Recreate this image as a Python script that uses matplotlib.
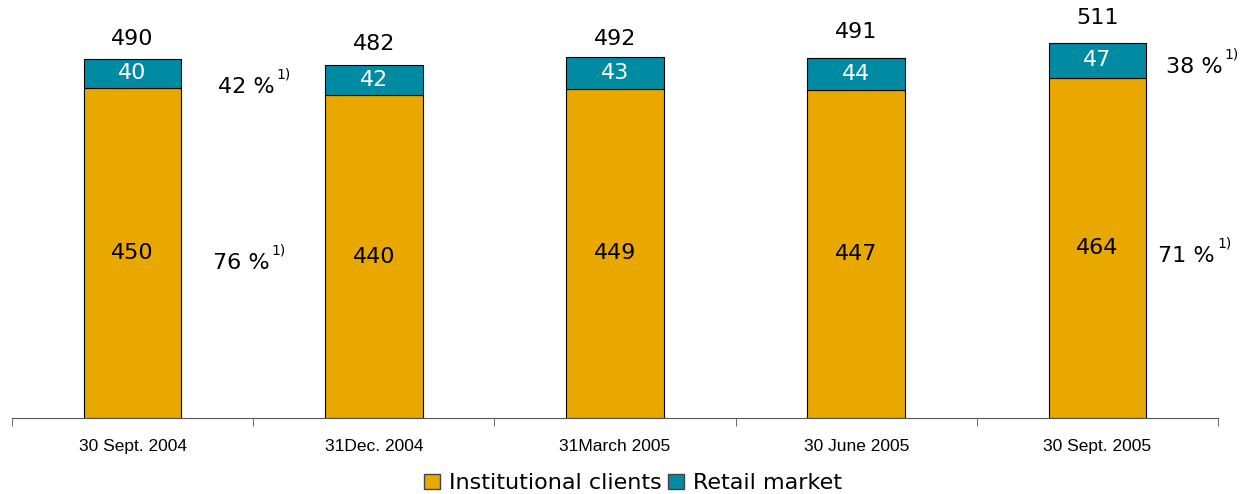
import matplotlib.pyplot as plt
import numpy as np
from matplotlib.patches import Patch

# dados do grafico
datas = ["30 Sept. 2004", "31Dec. 2004", "31March 2005", "30 June 2005", "30 Sept. 2005"]
institucional = [450, 440, 449, 447, 464]
varejo = [40, 42, 43, 44, 47]
totais = [490, 482, 492, 491, 511]

# percentuais anotados ao lado das barras
pct_txt = ["42 %", "76 %", "38 %", "71 %"]
pct_x = [0.47, 0.45, 4.40, 4.37]
pct_y = [452, 211, 479, 221]

# deslocamento do total acima da barra (em unidades do eixo)
desloc = [27, 28, 25, 36, 35]

cor_inst = "#E8A800"
cor_var = "#008BA3"

fig = plt.figure(figsize=(12.41, 4.94), dpi=100)
ax = fig.add_axes([12 / 1241, 76 / 494, 1206 / 1241, 418 / 494])

x = np.arange(len(datas))
larg = 0.405
ax.bar(x, institucional, larg, color=cor_inst, edgecolor="black", linewidth=0.8)
ax.bar(x, varejo, larg, bottom=institucional, color=cor_var, edgecolor="black", linewidth=0.8)

for i in range(len(datas)):
    ax.text(x[i], institucional[i] / 2, str(institucional[i]), ha="center", va="center",
            fontsize=16, color="black")
    ax.text(x[i], institucional[i] + varejo[i] / 2, str(varejo[i]), ha="center", va="center",
            fontsize=16, color="white")
    ax.text(x[i], totais[i] + desloc[i], str(totais[i]), ha="center", va="center", fontsize=16)

for t, px, py in zip(pct_txt, pct_x, pct_y):
    ax.text(px, py, t, ha="center", va="center", fontsize=16)
    ax.annotate("1)", (px, py), xytext=(22, 9), textcoords="offset points",
                ha="left", va="center", fontsize=10)

ax.set_xlim(-0.5, 4.5)
ax.set_ylim(0, 570)

ax.set_xticks(x)
ax.set_xticklabels(datas, fontsize=12.5, family="Liberation Sans")
ax.tick_params(axis="x", which="major", length=0, pad=15)
ax.set_xticks(np.arange(-0.5, 5, 1), minor=True)
ax.tick_params(axis="x", which="minor", length=6, direction="out", color="#555555")
ax.set_yticks([])
for s in ["top", "right", "left"]:
    ax.spines[s].set_visible(False)
ax.spines["bottom"].set_color("#555555")

handles = [Patch(facecolor=cor_inst, edgecolor="#444444", label="Institutional clients"),
           Patch(facecolor=cor_var, edgecolor="#444444", label="Retail market")]
fig.legend(handles=handles, loc="center", bbox_to_anchor=(0.51, 0.022), ncol=2, frameon=False,
           fontsize=16, handlelength=0.7, handleheight=0.7, handletextpad=0.4, columnspacing=0.3,
           borderpad=0)

fig.savefig("out.png", dpi=100)
